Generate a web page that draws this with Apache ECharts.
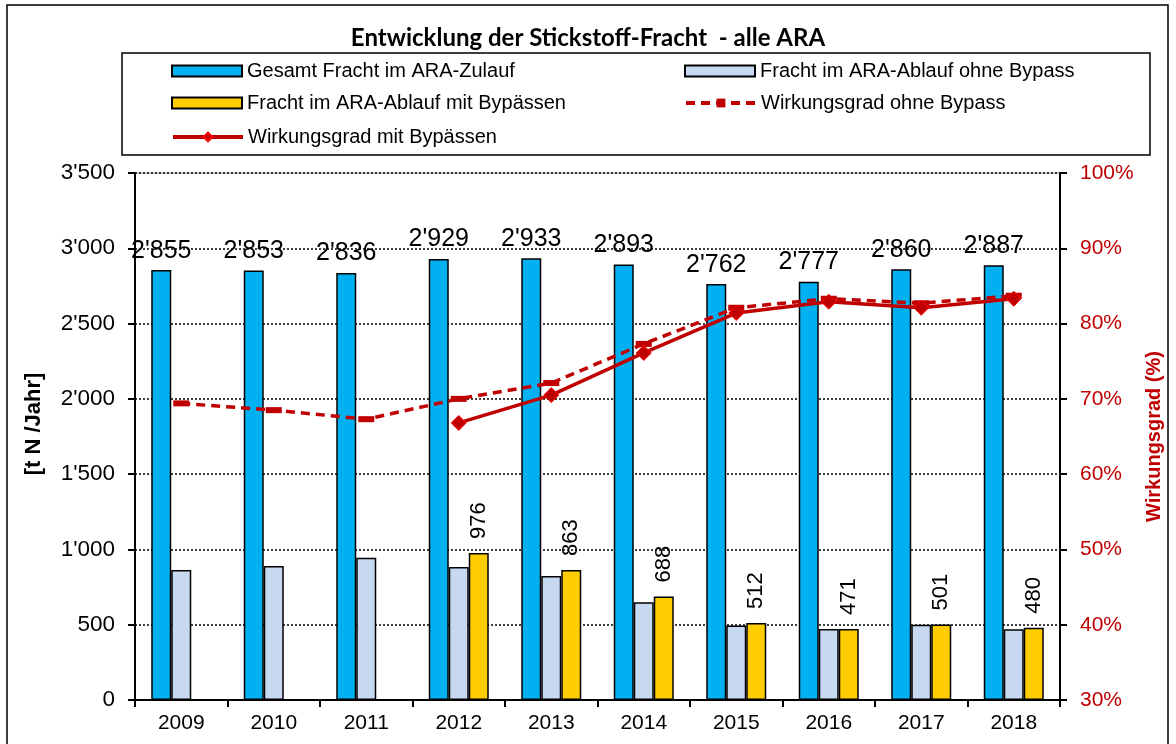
<!DOCTYPE html>
<html><head><meta charset="utf-8">
<script src="https://cdn.jsdelivr.net/npm/echarts@6/dist/echarts.min.js"></script>
<style>html,body{margin:0;padding:0;background:#fff}#c{width:1176px;height:744px}</style>
</head><body><div id="c"></div>
<script>
const years = ['2009','2010','2011','2012','2013','2014','2015','2016','2017','2018'];
const gesamtZulauf = [2855, 2853, 2836, 2929, 2933, 2893, 2762, 2777, 2860, 2887];
const ablaufOhneBypass = [863, 890, 945, 883, 823, 650, 495, 471, 500, 470];
const ablaufMitBypass = [null, null, null, 976, 863, 688, 512, 471, 501, 480];
const wgOhneBypass = [69.4, 68.5, 67.3, 70.0, 72.1, 77.3, 82.1, 83.3, 82.7, 83.7];
const wgMitBypass = [null, null, null, 66.8, 70.5, 76.1, 81.4, 82.9, 82.1, 83.3];
const names = ['Gesamt Fracht im ARA-Zulauf','Fracht im ARA-Ablauf ohne Bypass','Fracht im ARA-Ablauf mit Bypässen','Wirkungsgrad ohne Bypass','Wirkungsgrad mit Bypässen'];

const FF = '"Liberation Sans", Arial, sans-serif';
function fmt(v){ v = Math.round(v); if (v >= 1000) { const t = Math.floor(v/1000); const r = String(v%1000).padStart(3,'0'); return t + "'" + r; } return String(v); }

const chart = echarts.init(document.getElementById('c'), null, {renderer:'canvas'});
const legendBase = {itemWidth:70, itemHeight:11, itemGap:8, textStyle:{fontFamily:FF, fontSize:20, color:'#000'}, padding:0};
const legendPos = [[171,61],[684,61],[171,93],[684,93],[171,127]];
const legends = names.map((n,i)=>{
  const l = Object.assign({}, legendBase, {data:[n], left:legendPos[i][0], top:legendPos[i][1]});
  if (i < 3) l.icon = 'rect';
  if (i >= 3) l.data = [{name:n, lineStyle:{width:4}}];
  return l;
});
chart.setOption({
  backgroundColor:'#fff',
  animation:false,
  title:{text:'Entwicklung der Stickstoff-Fracht  - alle ARA', left:'center', top:26, padding:0,
    textStyle:{fontFamily:'Lato, "Liberation Sans", sans-serif', fontSize:24, fontWeight:'bold', color:'#000'}},
  graphic:[
    {type:'rect', shape:{x:7, y:5, width:1161, height:780}, style:{fill:null, stroke:'#000', lineWidth:1.5}, silent:true},
    {type:'rect', shape:{x:122, y:53, width:1028, height:102}, style:{fill:null, stroke:'#000', lineWidth:1.5}, silent:true},
    {type:'text', x:34, y:424, rotation:Math.PI/2, style:{text:'[t N /Jahr]', fontFamily:FF, fontSize:22, fontWeight:'bold', fill:'#000', align:'center', verticalAlign:'middle'}, silent:true}
  ],
  legend: legends,
  grid:{left:135, right:116, top:173, bottom:44, show:true, borderColor:'#999', borderWidth:1},
  xAxis:{type:'category', data:years,
    axisLine:{lineStyle:{color:'#000', width:2}},
    axisTick:{show:true, length:7, lineStyle:{color:'#000', width:2}},
    axisLabel:{fontFamily:FF, fontSize:21, color:'#000', margin:13}},
  yAxis:[
    {type:'value', min:0, max:3500, interval:500,
     axisLine:{show:true, lineStyle:{color:'#000', width:2}},
     axisTick:{show:true, length:7, lineStyle:{color:'#000', width:2}},
     axisLabel:{fontFamily:FF, fontSize:22.5, color:'#000', margin:20, formatter:fmt},
     splitLine:{show:true, lineStyle:{color:'#000', type:[2,2], width:1.5}}},
    {type:'value', min:30, max:100, interval:10, position:'right', name:'Wirkungsgrad (%)', nameLocation:'middle', nameGap:80, nameRotate:90,
     nameTextStyle:{fontFamily:FF, fontSize:20, fontWeight:'bold', color:'#C00000'},
     axisLine:{show:true, lineStyle:{color:'#000', width:2}},
     axisTick:{show:true, length:7, lineStyle:{color:'#000', width:2}},
     axisLabel:{fontFamily:FF, fontSize:21, color:'#C00000', margin:20, formatter:'{value}%'},
     splitLine:{show:false}}
  ],
  series:[
    {name:names[0], type:'bar', data:gesamtZulauf, barWidth:20, barGap:'0%',
     itemStyle:{color:'#00B0F0', borderColor:'#000', borderWidth:1.5},
     label:{show:true, position:'top', distance:7, formatter:p=>fmt(p.value), fontFamily:FF, fontSize:25, color:'#000'}},
    {name:names[1], type:'bar', data:ablaufOhneBypass, barWidth:20, barGap:'0%',
     itemStyle:{color:'#C6D9F1', borderColor:'#000', borderWidth:1.5}},
    {name:names[2], type:'bar', data:ablaufMitBypass, barWidth:20, barGap:'0%',
     itemStyle:{color:'#FFCC00', borderColor:'#000', borderWidth:1.5},
     label:{show:true, position:'top', rotate:90, align:'left', verticalAlign:'middle', distance:14, formatter:p=>fmt(p.value), fontFamily:FF, fontSize:22, color:'#000'}},
    {name:names[3], type:'line', yAxisIndex:1, data:wgOhneBypass, z:5,
     lineStyle:{color:'#C00000', width:3.5, type:[9,6]},
     symbol:'rect', symbolSize:[16,6], itemStyle:{color:'#C00000'}},
    {name:names[4], type:'line', yAxisIndex:1, data:wgMitBypass, z:6,
     lineStyle:{color:'#C00000', width:3.5},
     symbol:'diamond', symbolSize:15, itemStyle:{color:'#C00000', borderColor:'#FF0000', borderWidth:1}}
  ]
});
</script></body></html>
